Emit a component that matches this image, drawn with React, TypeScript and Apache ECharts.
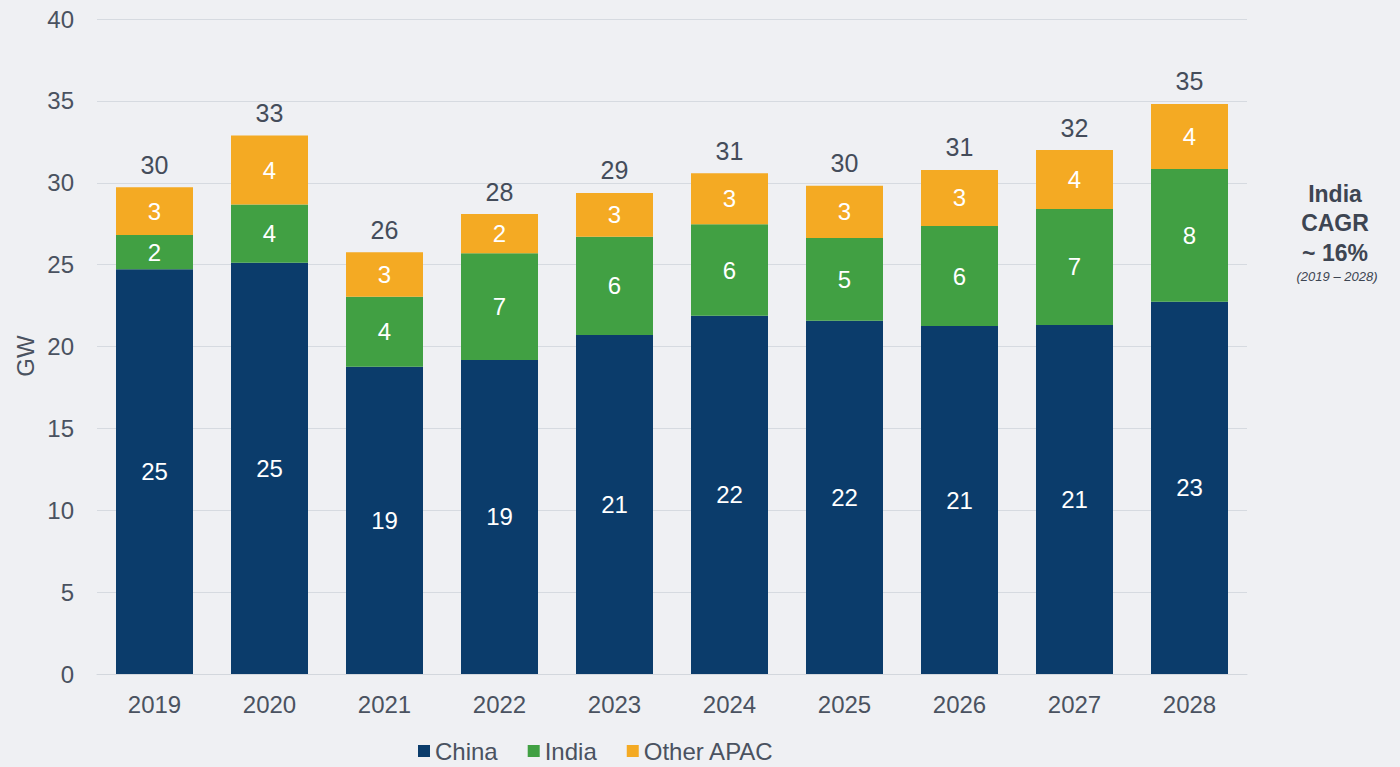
import React, { useEffect, useRef } from "react";
import * as echarts from "echarts";

const years = ["2019", "2020", "2021", "2022", "2023", "2024", "2025", "2026", "2027", "2028"];
const china = [24.71, 25.12, 18.77, 19.18, 20.7, 21.88, 21.58, 21.25, 21.31, 22.74];
const india = [2.1, 3.55, 4.27, 6.51, 6.0, 5.58, 5.05, 6.11, 7.09, 8.1];
const other = [2.91, 4.21, 2.71, 2.4, 2.68, 3.12, 3.19, 3.42, 3.6, 3.97];
const yTicks = { min: 0, max: 40, interval: 5 };
const noteLines = ["India", "CAGR", "~ 16%"];
const noteSub = "(2019 – 2028)";

const FONT = "Liberation Sans, Arial, sans-serif";
const TEXT = "#4a5260";

export default function App() {
  const ref = useRef<HTMLDivElement>(null);
  useEffect(() => {
    if (!ref.current) return;
    const chart = echarts.init(ref.current, null, { renderer: "svg" });
    const totals = china.map((c, i) => c + india[i] + other[i]);
    const inside = {
      show: true,
      position: "inside",
      color: "#ffffff",
      fontSize: 24,
      fontFamily: FONT,
      formatter: (p: any) => String(Math.round(p.value)),
    };
    const noteY = [194, 223, 253];
    chart.setOption({
      animation: false,
      backgroundColor: "#eff0f3",
      textStyle: { fontFamily: FONT },
      grid: { left: 97, right: 153, top: 19, bottom: 93, containLabel: false },
      legend: {
        data: ["China", "India", "Other APAC"],
        left: 413,
        top: 734,
        itemWidth: 12,
        itemHeight: 12,
        itemGap: 30,
        icon: "rect",
        textStyle: { fontSize: 24, color: TEXT, fontFamily: FONT },
      },
      xAxis: {
        type: "category",
        data: years,
        axisLine: { show: true, lineStyle: { color: "#d3d7dd", width: 1 } },
        axisTick: { show: false },
        axisLabel: { fontSize: 24, color: TEXT, margin: 18, fontFamily: FONT },
      },
      yAxis: {
        type: "value",
        min: yTicks.min,
        max: yTicks.max,
        interval: yTicks.interval,
        axisLine: { show: false },
        axisTick: { show: false },
        axisLabel: { fontSize: 24, color: TEXT, margin: 23, fontFamily: FONT },
        splitLine: { lineStyle: { color: "#d6dae0", width: 1 } },
      },
      series: [
        {
          name: "China",
          type: "bar",
          stack: "all",
          barWidth: 77,
          data: china,
          itemStyle: { color: "#0b3c6b" },
          label: inside,
        },
        {
          name: "India",
          type: "bar",
          stack: "all",
          barWidth: 77,
          data: india,
          itemStyle: { color: "#41a043" },
          label: inside,
        },
        {
          name: "Other APAC",
          type: "bar",
          stack: "all",
          barWidth: 77,
          data: other,
          itemStyle: { color: "#f4aa23" },
          label: inside,
        },
        {
          name: "Total",
          type: "bar",
          stack: "all",
          barWidth: 77,
          data: years.map(() => 0),
          itemStyle: { color: "transparent" },
          label: {
            show: true,
            position: "top",
            distance: 10,
            color: "#444c5a",
            fontSize: 25,
            fontFamily: FONT,
            formatter: (p: any) => String(Math.round(totals[p.dataIndex])),
          },
        },
      ],
      graphic: [
        {
          type: "text",
          x: 25,
          y: 356,
          rotation: Math.PI / 2,
          style: {
            text: "GW",
            font: "24px Liberation Sans, Arial, sans-serif",
            fill: TEXT,
            textAlign: "center",
            textVerticalAlign: "middle",
          },
        },
        ...noteLines.map((t, i) => ({
          type: "text",
          x: 1335,
          y: noteY[i],
          style: {
            text: t,
            font: "bold 23px Liberation Sans, Arial, sans-serif",
            fill: "#3d4552",
            textAlign: "center",
            textVerticalAlign: "middle",
          },
        })),
        {
          type: "text",
          x: 1337,
          y: 276,
          style: {
            text: noteSub,
            font: "italic 13px Liberation Sans, Arial, sans-serif",
            fill: "#3d4552",
            textAlign: "center",
            textVerticalAlign: "middle",
          },
        },
      ],
    });
    return () => chart.dispose();
  }, []);
  return (
    <div
      ref={ref}
      style={{ position: "absolute", left: 0, top: 0, width: 1400, height: 767 }}
    />
  );
}
